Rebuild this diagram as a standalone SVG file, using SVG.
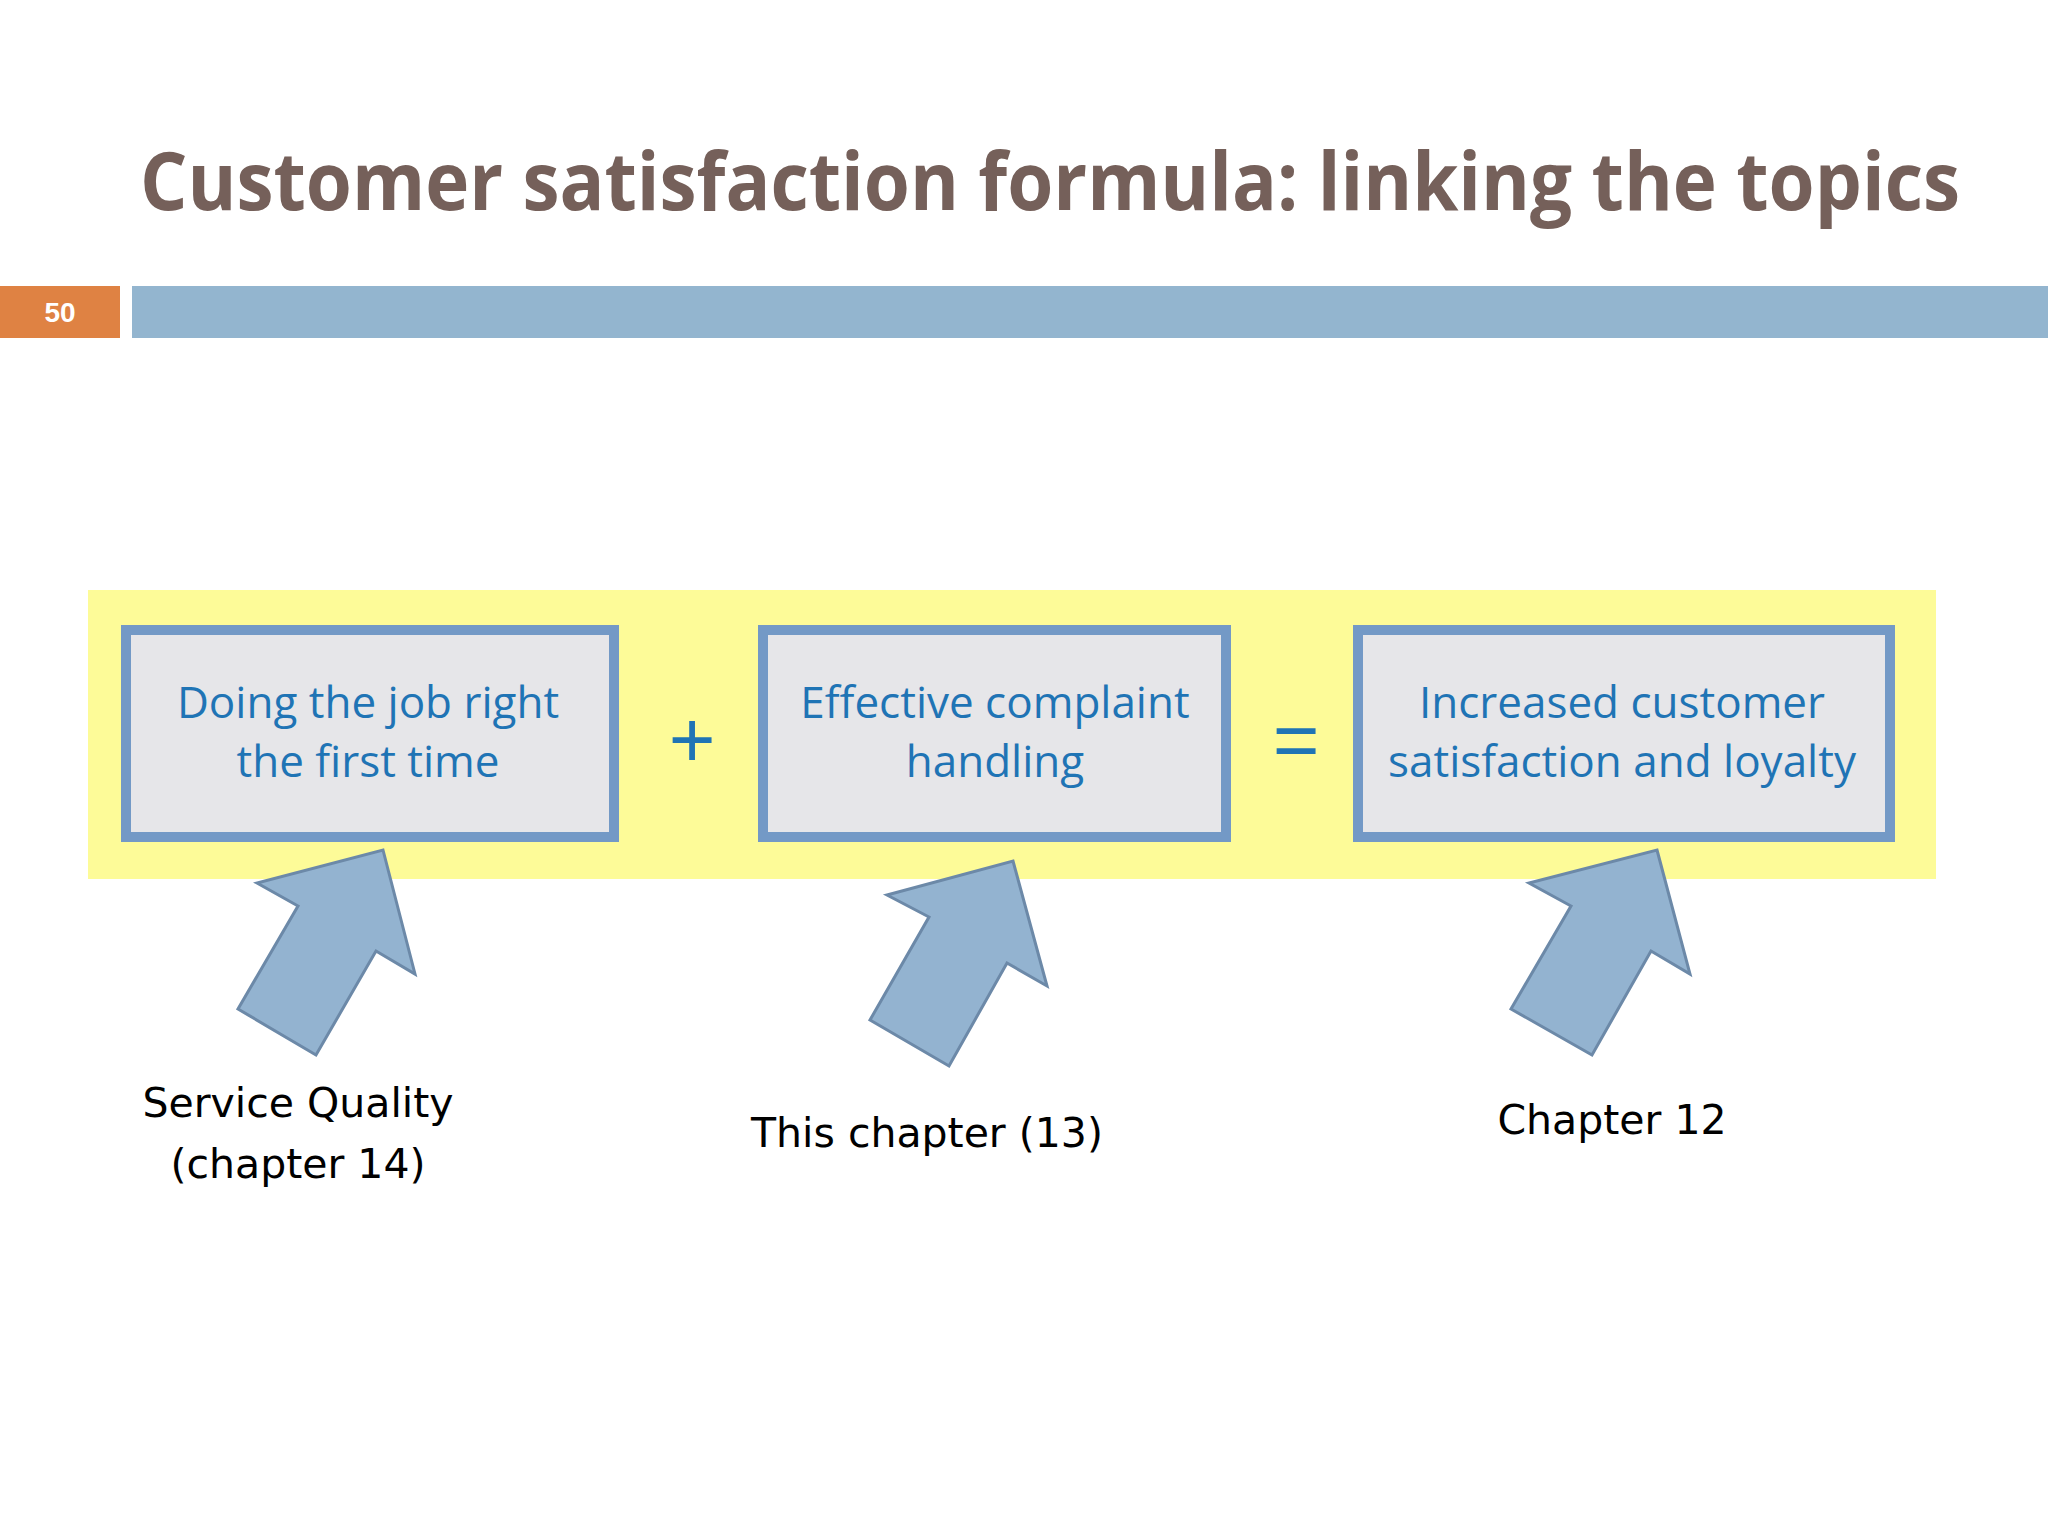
<svg xmlns="http://www.w3.org/2000/svg" width="2048" height="1536" viewBox="0 0 2048 1536">
<style>
.box{fill:#e6e6e9;stroke:#7399c6;stroke-width:10}
.bt{font-family:"Open Sans","Liberation Sans",sans-serif;font-size:44px;fill:#1f74b5;text-anchor:middle}
.op{font-family:"Liberation Sans",sans-serif;font-size:80px;fill:#1f74b5;text-anchor:middle}
.lb{font-family:"DejaVu Sans","Liberation Sans",sans-serif;font-size:41px;fill:#000;text-anchor:middle}
.ar{fill:#93b3d0;stroke:#6c89a8;stroke-width:3;stroke-linejoin:miter}
</style>
<rect width="2048" height="1536" fill="#fff"/>
<text x="140" y="210" font-family="'Open Sans','Liberation Sans',sans-serif" font-weight="bold" font-size="80" fill="#75605a" textLength="1820" lengthAdjust="spacingAndGlyphs">Customer satisfaction formula: linking the topics</text>
<rect x="0" y="286" width="120" height="52" fill="#df8243"/>
<text x="60" y="322" font-family="'Liberation Sans',sans-serif" font-weight="bold" font-size="28" fill="#fff" text-anchor="middle">50</text>
<rect x="132" y="286" width="1916" height="52" fill="#93b5cf"/>
<rect x="88" y="590" width="1848" height="289" fill="#fdfb98"/>
<g id="n1"><rect class="box" x="126" y="630" width="488" height="207"/>
<text class="bt" x="368" y="718">Doing the job right</text><text class="bt" x="368" y="777">the first time</text></g>
<g id="n2"><rect class="box" x="763" y="630" width="463" height="207"/>
<text class="bt" x="995" y="718">Effective complaint</text><text class="bt" x="995" y="777">handling</text></g>
<g id="n3"><rect class="box" x="1358" y="630" width="532" height="207"/>
<text class="bt" x="1622" y="718">Increased customer</text><text class="bt" x="1622" y="777">satisfaction and loyalty</text></g>
<text class="op" x="692" y="767">+</text>
<text class="op" x="1296" y="767">=</text>
<g id="connectors">
<polygon class="ar" points="383,850 415,974 376,951 316,1055 238,1009 298,906 257,883"/>
<polygon class="ar" points="1013,861 1047,986 1007,963 949,1066 870,1020 929,917 887,895"/>
<polygon class="ar" points="1657,850 1690,974 1651,951 1592,1055 1511,1009 1571,906 1529,883"/>
</g>
<g id="l1"><text class="lb" x="298" y="1117">Service Quality</text><text class="lb" x="298" y="1178">(chapter 14)</text></g>
<g id="l2"><text class="lb" x="927" y="1147">This chapter (13)</text></g>
<g id="l3"><text class="lb" x="1612" y="1134">Chapter 12</text></g>
</svg>
